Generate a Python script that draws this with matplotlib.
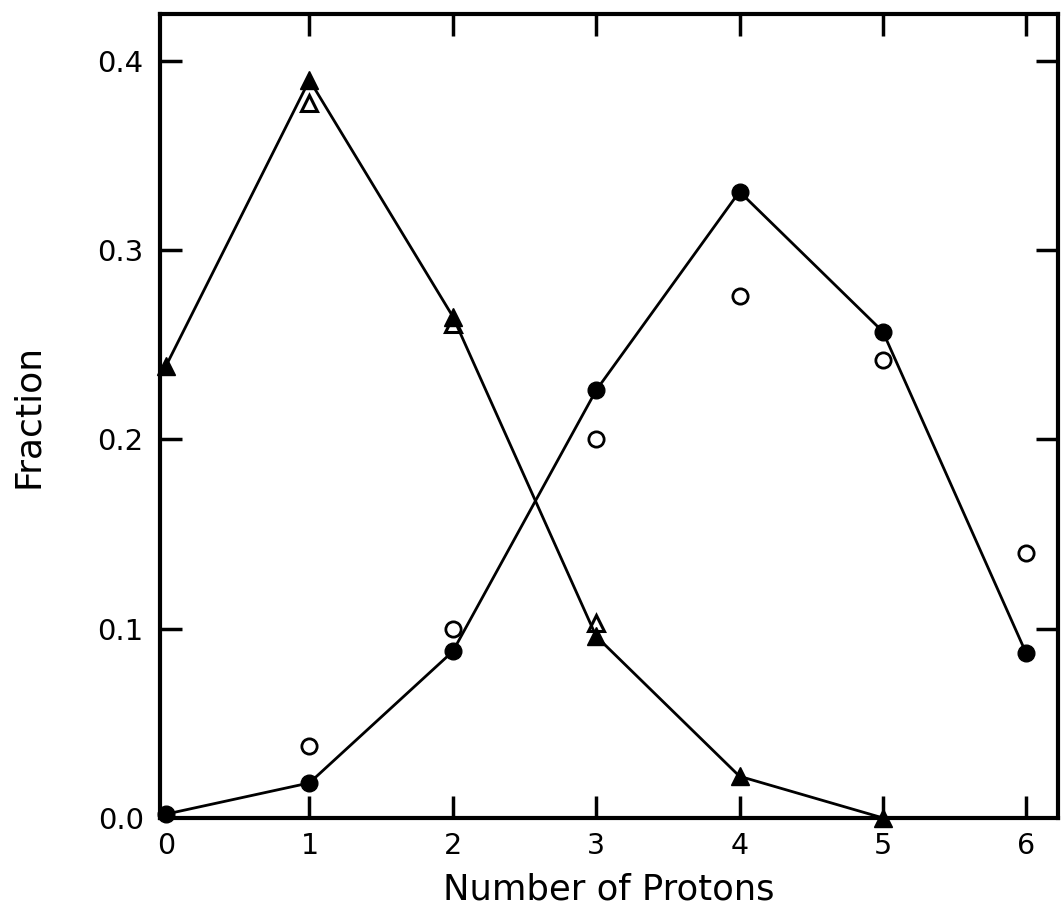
import numpy as np
import matplotlib.pyplot as plt

# proton counts on the x axis
protons = [0, 1, 2, 3, 4, 5, 6]

# calculated distributions (joined by lines)
calc_tri = [0.239, 0.390, 0.265, 0.096, 0.022, 0.0]
calc_circ = [0.002, 0.0185, 0.088, 0.226, 0.331, 0.257, 0.087]

# measured points (open symbols)
meas_tri_x = [1, 2, 3]
meas_tri = [0.378, 0.261, 0.103]
meas_circ_x = [1, 2, 3, 4, 5, 6]
meas_circ = [0.038, 0.100, 0.200, 0.276, 0.242, 0.140]

yticks = [0.0, 0.1, 0.2, 0.3, 0.4]
ytick_labels = ['0.0', '0.1', '0.2', '0.3', '0.4']

plt.rcParams['font.family'] = ['DejaVu Sans']

fig = plt.figure(figsize=(10.62, 9.19), dpi=100)
ax = fig.add_axes([0.151, 0.110, 0.845, 0.875])

ax.plot(protons[:6], calc_tri, color='black', lw=2.0, marker='^',
        markersize=13, clip_on=False, zorder=3)
ax.plot(protons, calc_circ, color='black', lw=2.0, marker='o',
        markersize=12, clip_on=False, zorder=3)
ax.plot(meas_tri_x, meas_tri, ls='none', marker='^', markersize=11,
        markerfacecolor='white', markeredgecolor='black', markeredgewidth=2.2,
        zorder=2)
ax.plot(meas_circ_x, meas_circ, ls='none', marker='o', markersize=11,
        markerfacecolor='white', markeredgecolor='black', markeredgewidth=2.0,
        zorder=2)

ax.set_xlim(-0.04, 6.22)
ax.set_ylim(0.0, 0.425)
ax.set_xticks(protons)
ax.set_xticklabels([str(p) for p in protons], fontsize=20.5)
ax.set_yticks(yticks)
ax.set_yticklabels(ytick_labels, fontsize=21)

for s in ax.spines.values():
    s.set_linewidth(3)
ax.tick_params(direction='in', length=16, width=2.5, top=True, right=True)
ax.tick_params(axis='x', pad=10)
ax.tick_params(axis='y', pad=12)

# no tick marks at the origin, they sit on the spines
for t in (ax.xaxis.get_major_ticks()[0], ax.yaxis.get_major_ticks()[0]):
    t.tick1line.set_visible(False)
    t.tick2line.set_visible(False)

ax.set_xlabel('Number of Protons', fontsize=25.5, labelpad=9)
ax.set_ylabel('Fraction', fontsize=26, labelpad=38)

fig.savefig('out.png', dpi=100, facecolor='white')
